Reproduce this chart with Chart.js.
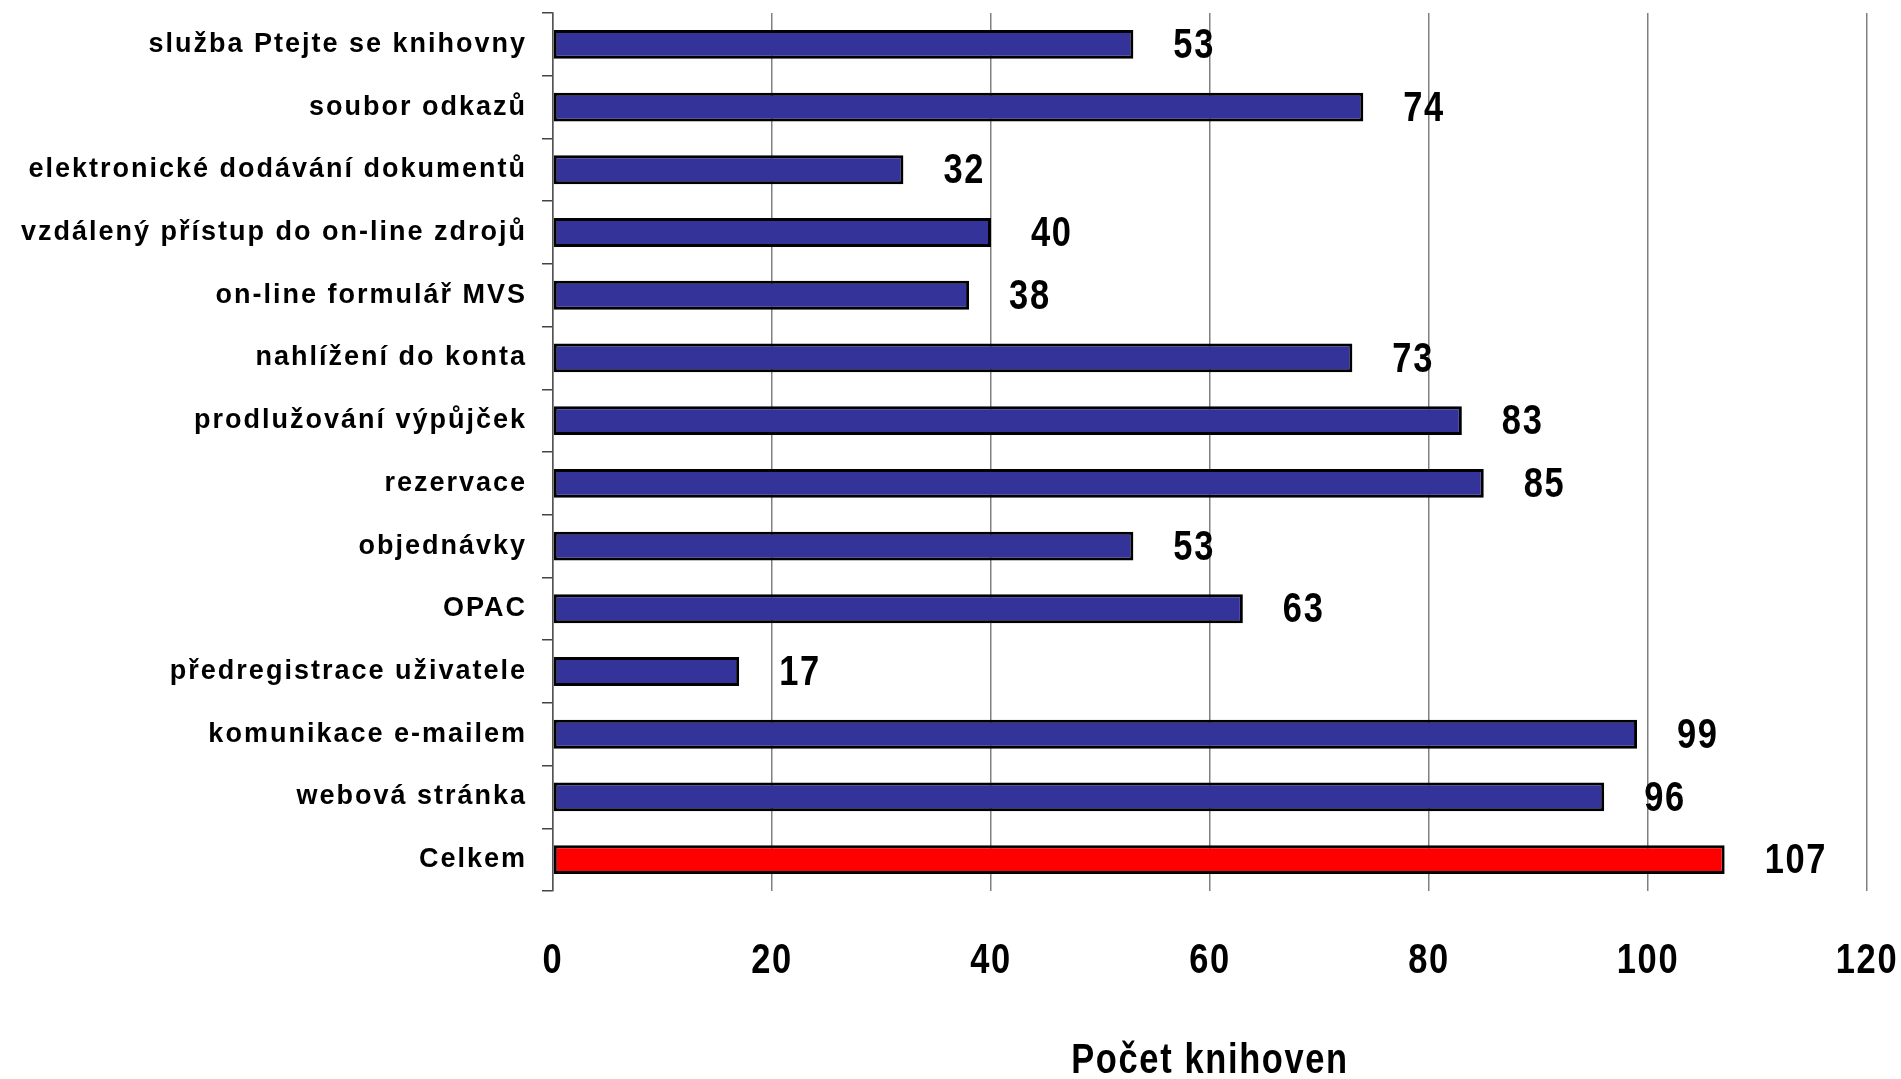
<!DOCTYPE html>
<html><head><meta charset="utf-8">
<script src="https://cdn.jsdelivr.net/npm/chart.js@4.4.1/dist/chart.umd.min.js"></script>
<style>html,body{margin:0;padding:0;background:#fff;overflow:hidden}</style>
</head><body>
<canvas id="c" width="1901" height="1079"></canvas>
<script>
const categories = [
  'služba Ptejte se knihovny',
  'soubor odkazů',
  'elektronické dodávání dokumentů',
  'vzdálený přístup do on-line zdrojů',
  'on-line formulář MVS',
  'nahlížení do konta',
  'prodlužování výpůjček',
  'rezervace',
  'objednávky',
  'OPAC',
  'předregistrace uživatele',
  'komunikace e-mailem',
  'webová stránka',
  'Celkem'
];
const values = [53, 74, 32, 40, 38, 73, 83, 85, 53, 63, 17, 99, 96, 107];
const xTicks = [0, 20, 40, 60, 80, 100, 120];
const xTitle = 'Počet knihoven';
const totalCategory = 'Celkem';

// "XNarrow" is a marker: text in this family is drawn horizontally condensed
const NARROW = '"XNarrow", "Liberation Sans", Arial, sans-serif';
const WIDE = '"Liberation Sans", Arial, sans-serif';
const SX = 0.82;
const BLUE = '#333399', RED = '#FF0000';

const barColors = categories.map(c => c === totalCategory ? RED : BLUE);

function installNarrow(ctx) {
  if (ctx.__narrow) return;
  ctx.__narrow = true;
  const ft = ctx.fillText;
  const mt = ctx.measureText;
  ctx.fillText = function (t, x, y, maxW) {
    if (this.font.indexOf('XNarrow') >= 0) {
      this.save();
      this.translate(x, y);
      this.scale(SX, 1);
      ft.call(this, t, 0, 0);
      this.restore();
    } else {
      ft.call(this, t, x, y, maxW);
    }
  };
  ctx.measureText = function (t) {
    const m = mt.call(this, t);
    if (this.font.indexOf('XNarrow') >= 0) {
      return {
        width: m.width * SX,
        actualBoundingBoxAscent: m.actualBoundingBoxAscent,
        actualBoundingBoxDescent: m.actualBoundingBoxDescent,
        actualBoundingBoxLeft: m.actualBoundingBoxLeft * SX,
        actualBoundingBoxRight: m.actualBoundingBoxRight * SX
      };
    }
    return m;
  };
}

const textStyle = {
  id: 'textStyle',
  beforeInit(c) { installNarrow(c.ctx); c.ctx.letterSpacing = '2px'; },
  beforeLayout(c) { installNarrow(c.ctx); c.ctx.letterSpacing = '2px'; },
  beforeDraw(c) { c.ctx.letterSpacing = '2px'; }
};

const valueLabels = {
  id: 'valueLabels',
  afterDatasetsDraw(chart) {
    const ctx = chart.ctx;
    const meta = chart.getDatasetMeta(0);
    ctx.save();
    ctx.letterSpacing = '2px';
    ctx.font = 'bold 42px ' + NARROW;
    ctx.fillStyle = '#000';
    ctx.textAlign = 'left';
    ctx.textBaseline = 'middle';
    meta.data.forEach((bar, i) => {
      ctx.fillText(String(values[i]), bar.x + 40, bar.y + 2);
    });
    ctx.restore();
  }
};

new Chart(document.getElementById('c'), {
  type: 'bar',
  data: {
    labels: categories,
    datasets: [{
      data: values,
      backgroundColor: barColors,
      borderColor: '#000',
      borderWidth: 3,
      borderSkipped: false,
      barPercentage: 0.46,
      categoryPercentage: 1
    }]
  },
  options: {
    indexAxis: 'y',
    responsive: false,
    animation: false,
    devicePixelRatio: 1,
    layout: { padding: { top: 13, right: 34, bottom: 0, left: 0 } },
    plugins: { legend: { display: false }, tooltip: { enabled: false } },
    scales: {
      x: {
        type: 'linear',
        position: 'bottom',
        min: 0,
        max: 120,
        afterBuildTicks: s => { s.ticks = xTicks.map(v => ({ value: v })); },
        afterFit: s => { s.height = 188; s.paddingLeft = 0; s.paddingRight = 0; },
        ticks: {
          color: '#000',
          padding: 49,
          font: { family: NARROW, size: 42, weight: 'bold', lineHeight: 1 }
        },
        grid: { color: '#808080', lineWidth: 1.5, drawTicks: false },
        border: { display: false },
        title: {
          display: true,
          text: xTitle,
          color: '#000',
          font: { family: NARROW, size: 42, weight: 'bold', lineHeight: 1 },
          padding: { top: 0, bottom: -3 }
        }
      },
      y: {
        type: 'category',
        afterFit: s => { s.width = 553; s.paddingTop = 0; s.paddingBottom = 0; },
        ticks: {
          color: '#000',
          padding: 15,
          font: { family: WIDE, size: 27, weight: 'bold' }
        },
        grid: { drawOnChartArea: false, drawTicks: true, tickLength: 11, color: '#444', lineWidth: 1.5, offset: true },
        border: { display: true, color: '#555', width: 1.5 }
      }
    }
  },
  plugins: [textStyle, valueLabels]
});
</script>
</body></html>
